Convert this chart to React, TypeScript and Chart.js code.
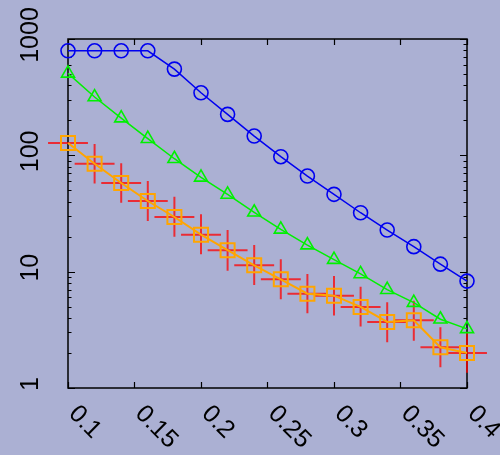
import React, { useEffect, useRef } from "react";
import { Chart, registerables } from "chart.js";

Chart.register(...registerables);

// Sample positions along x
const xValues = [0.1, 0.12, 0.14, 0.16, 0.18, 0.2, 0.22, 0.24, 0.26, 0.28, 0.3, 0.32, 0.34, 0.36, 0.38, 0.4];

// Blue circles
const circleSeries = [792, 792, 792, 792, 551, 345, 225, 146.5, 97.3, 66.4, 46.2, 32.1, 22.8, 16.4, 11.6, 8.3];
// Green triangles
const triangleSeries = [506, 317, 209, 139, 93.5, 64.7, 46.1, 32.4, 23.1, 16.9, 12.7, 9.56, 7.0, 5.42, 3.9, 3.22];
// Orange squares (measured points)
const squareSeries = [127.6, 84.7, 57.8, 40.5, 29.5, 20.8, 15.3, 11.35, 8.6, 6.47, 6.22, 4.98, 3.7, 3.82, 2.24, 2.0];
// Error ranges of the measured points
const errLow = [127.6, 57.2, 39.2, 27.3, 20.0, 14.1, 10.2, 7.69, 5.79, 4.39, 4.19, 3.37, 2.47, 2.55, 1.51, 1.35];
const errHigh = [127.6, 125, 85.4, 60.1, 44.1, 31.1, 22.8, 16.96, 12.8, 9.56, 9.19, 7.43, 5.46, 5.63, 3.33, 2.97];
const xErr = 0.015;

// Axis ticks
const xTicks = [0.1, 0.15, 0.2, 0.25, 0.3, 0.35, 0.4];
const xTickLabels = ["0.1", "0.15", "0.2", "0.25", "0.3", "0.35", "0.4"];
const yTicks = [1, 10, 100, 1000];
const yTickLabels = ["1", "10", "100", "1000"];

const FONT = "25px 'Liberation Sans', Arial, Helvetica, sans-serif";

const framePlugin = {
  id: "gnuFrame",
  beforeDatasetsDraw(chart: any) {
    const { ctx, chartArea: a, scales } = chart;
    const xs = scales.x;
    const ys = scales.y;
    ctx.save();

    // border
    ctx.strokeStyle = "#000";
    ctx.lineWidth = 1.5;
    ctx.strokeRect(a.left, a.top, a.right - a.left, a.bottom - a.top);

    // x ticks (inward, bottom and top)
    ctx.lineWidth = 1.2;
    ctx.beginPath();
    xTicks.forEach((v) => {
      const px = Math.round(xs.getPixelForValue(v)) + 0.5;
      ctx.moveTo(px, a.bottom);
      ctx.lineTo(px, a.bottom - 6);
      ctx.moveTo(px, a.top);
      ctx.lineTo(px, a.top + 6);
    });
    ctx.stroke();

    // y ticks: decades and minors
    ctx.beginPath();
    for (let d = 0; d < yTicks.length; d++) {
      const base = yTicks[d];
      const py = Math.round(ys.getPixelForValue(base)) + 0.5;
      ctx.moveTo(a.left, py);
      ctx.lineTo(a.left + 7, py);
      ctx.moveTo(a.right, py);
      ctx.lineTo(a.right - 7, py);
      if (d < yTicks.length - 1) {
        for (let m = 2; m <= 9; m++) {
          const my = Math.round(ys.getPixelForValue(base * m)) + 0.5;
          ctx.moveTo(a.left, my);
          ctx.lineTo(a.left + 3.5, my);
          ctx.moveTo(a.right, my);
          ctx.lineTo(a.right - 3.5, my);
        }
      }
    }
    ctx.stroke();

    // error crosses
    ctx.strokeStyle = "rgba(255,0,0,0.75)";
    ctx.lineWidth = 2;
    xValues.forEach((xv, i) => {
      const px = xs.getPixelForValue(xv);
      const py = ys.getPixelForValue(squareSeries[i]);
      ctx.beginPath();
      ctx.moveTo(xs.getPixelForValue(xv - xErr), py);
      ctx.lineTo(xs.getPixelForValue(xv + xErr), py);
      if (errHigh[i] !== errLow[i]) {
        ctx.moveTo(px, ys.getPixelForValue(errHigh[i]));
        ctx.lineTo(px, ys.getPixelForValue(errLow[i]));
      }
      ctx.stroke();
    });

    ctx.restore();
  },
  afterDraw(chart: any) {
    const { ctx, chartArea: a, scales } = chart;
    const xs = scales.x;
    const ys = scales.y;
    ctx.save();
    ctx.fillStyle = "#000";
    ctx.font = FONT;

    // y labels, rotated to read upwards
    ctx.textAlign = "center";
    ctx.textBaseline = "alphabetic";
    yTicks.forEach((v, i) => {
      const py = ys.getPixelForValue(v) - 4;
      ctx.save();
      ctx.translate(37.5, py);
      ctx.rotate(-Math.PI / 2);
      ctx.fillText(yTickLabels[i], 0, 0);
      ctx.restore();
    });

    // x labels, slanted downwards
    ctx.textAlign = "left";
    ctx.textBaseline = "middle";
    xTicks.forEach((v, i) => {
      const px = xs.getPixelForValue(v) + 4.5;
      ctx.save();
      ctx.translate(px, a.bottom + 22);
      ctx.rotate(Math.PI / 4);
      ctx.fillText(xTickLabels[i], 0, 0);
      ctx.restore();
    });
    ctx.restore();
  },
};

export default function App() {
  const canvasRef = useRef<HTMLCanvasElement | null>(null);

  useEffect(() => {
    const canvas = canvasRef.current;
    if (!canvas) return;
    const toPoints = (ys: number[]) => xValues.map((x, i) => ({ x, y: ys[i] }));

    const chart = new Chart(canvas, {
      type: "line",
      data: {
        datasets: [
          {
            data: toPoints(squareSeries),
            borderColor: "#ffa500",
            borderWidth: 2,
            pointStyle: "rect",
            pointRadius: 9.9,
            pointBorderWidth: 2,
            pointBorderColor: "#ffa500",
            pointBackgroundColor: "rgba(0,0,0,0)",
            tension: 0,
            clip: false,
          },
          {
            data: toPoints(triangleSeries),
            borderColor: "#00f000",
            borderWidth: 1.5,
            pointStyle: "triangle",
            pointRadius: 7.5,
            pointBorderWidth: 1.6,
            pointBorderColor: "#00f000",
            pointBackgroundColor: "rgba(0,0,0,0)",
            tension: 0,
            clip: false,
          },
          {
            data: toPoints(circleSeries),
            borderColor: "#0000f0",
            borderWidth: 1.5,
            pointStyle: "circle",
            pointRadius: 7,
            pointBorderWidth: 1.6,
            pointBorderColor: "#0000f0",
            pointBackgroundColor: "rgba(0,0,0,0)",
            tension: 0,
            clip: false,
          },
        ],
      },
      options: {
        responsive: false,
        animation: false,
        devicePixelRatio: 1,
        events: [],
        layout: { padding: { left: 68, top: 39, right: 33, bottom: 67 } },
        plugins: {
          legend: { display: false },
          tooltip: { enabled: false },
        },
        scales: {
          x: { type: "linear", min: 0.1, max: 0.4, display: false },
          y: { type: "logarithmic", min: 1, max: 1000, display: false },
        },
      },
      plugins: [framePlugin],
    });

    return () => chart.destroy();
  }, []);

  return (
    <div
      style={{
        position: "fixed",
        left: 0,
        top: 0,
        width: 500,
        height: 455,
        background: "#abb0d3",
      }}
    >
      <canvas ref={canvasRef} width={500} height={455} style={{ display: "block" }} />
    </div>
  );
}
